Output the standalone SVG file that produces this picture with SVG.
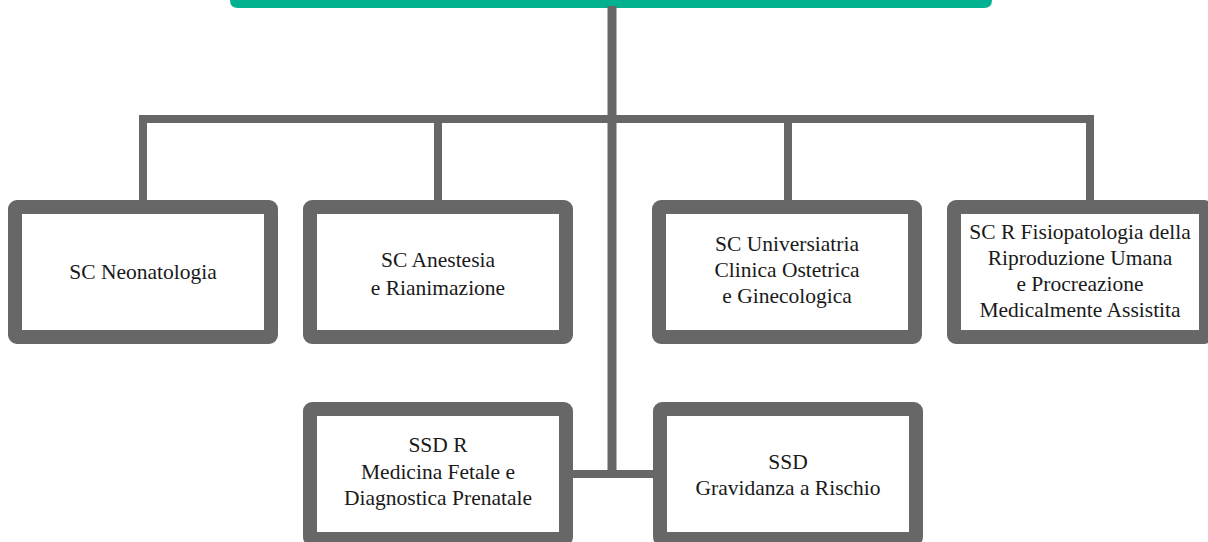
<svg xmlns="http://www.w3.org/2000/svg" width="1208" height="542" viewBox="0 0 1208 542">
<style>
.box{fill:#ffffff;stroke:#676767;stroke-width:14}
.ln{stroke:#676767;stroke-width:8;fill:none;stroke-linecap:butt}
.t{font-size:21.5px;fill:#1a1a1a;text-anchor:middle}
</style>
<rect width="1208" height="542" fill="#ffffff"/>
<g id="header">
<path d="M230 0 H992 V0 Q992 8 984 8 H238 Q230 8 230 0 Z" fill="#02b18f"/>
</g>
<g id="connectors">
<line class="ln" x1="612" y1="6" x2="612" y2="478" style="stroke-width:9"/>
<line class="ln" x1="139" y1="119" x2="1094" y2="119"/>
<line class="ln" x1="143" y1="115" x2="143" y2="202"/>
<line class="ln" x1="438" y1="115" x2="438" y2="202"/>
<line class="ln" x1="788" y1="115" x2="788" y2="202"/>
<line class="ln" x1="1090" y1="115" x2="1090" y2="202"/>
<line class="ln" x1="566" y1="474" x2="660" y2="474"/>
</g>
<g font-family="Liberation Serif, DejaVu Serif, serif">
<g id="n1">
<rect class="box" x="15" y="207" width="256" height="130" rx="2"/>
<text class="t" x="143" y="279">SC Neonatologia</text>
</g>
<g id="n2">
<rect class="box" x="310" y="207" width="256" height="130" rx="2"/>
<text class="t" x="438" y="267">SC Anestesia</text>
<text class="t" x="438" y="295">e Rianimazione</text>
</g>
<g id="n3">
<rect class="box" x="659" y="207" width="256" height="130" rx="2"/>
<text class="t" x="787" y="251">SC Universiatria</text>
<text class="t" x="787" y="277">Clinica Ostetrica</text>
<text class="t" x="787" y="303">e Ginecologica</text>
</g>
<g id="n4">
<rect class="box" x="954" y="207" width="252" height="130" rx="2"/>
<text class="t" x="1080" y="239">SC R Fisiopatologia della</text>
<text class="t" x="1080" y="265">Riproduzione Umana</text>
<text class="t" x="1080" y="291">e Procreazione</text>
<text class="t" x="1080" y="317">Medicalmente Assistita</text>
</g>
<g id="n5">
<rect class="box" x="310" y="409" width="256" height="130" rx="2"/>
<text class="t" x="438" y="452">SSD R</text>
<text class="t" x="438" y="479">Medicina Fetale e</text>
<text class="t" x="438" y="505">Diagnostica Prenatale</text>
</g>
<g id="n6">
<rect class="box" x="660" y="409" width="256" height="130" rx="2"/>
<text class="t" x="788" y="469">SSD</text>
<text class="t" x="788" y="495">Gravidanza a Rischio</text>
</g>
</g>
</svg>
